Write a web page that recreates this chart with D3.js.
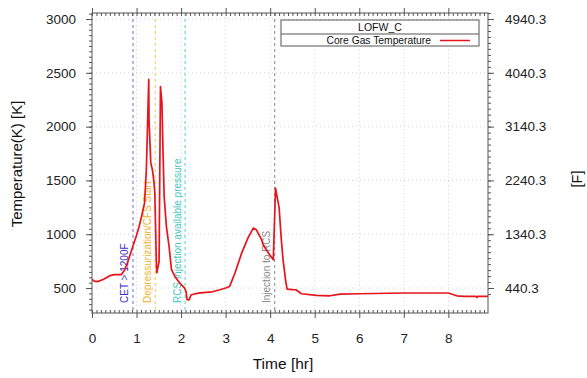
<!DOCTYPE html>
<html>
<head>
<meta charset="utf-8">
<script src="https://cdn.jsdelivr.net/npm/d3@7"></script>
<style>
  body { margin: 0; background: #fff; }
  svg { font-family: "Liberation Sans", Arial, sans-serif; }
</style>
</head>
<body>
<svg id="chart" width="587" height="378"></svg>
<script>
// time [hr] and core gas temperature [K]
const timeHr = [0.00, 0.05, 0.12, 0.25, 0.40, 0.50, 0.66, 0.73, 0.80, 0.92, 1.00, 1.05, 1.11, 1.18,
  1.22, 1.274, 1.28, 1.32, 1.356, 1.386, 1.41, 1.447, 1.455, 1.506, 1.537, 1.57, 1.595, 1.62, 1.67,
  1.73, 1.785, 1.86, 1.97, 2.08, 2.11, 2.135, 2.18, 2.22, 2.30, 2.43, 2.70, 2.87, 3.00, 3.09,
  3.21, 3.36, 3.50, 3.62, 3.69, 3.81, 3.84, 3.96, 4.07, 4.12, 4.20, 4.25, 4.29, 4.35,
  4.38, 4.50, 4.58, 4.70, 5.04, 5.34, 5.57, 6.00, 7.00, 8.00, 8.10, 8.19, 8.34, 8.62, 8.64, 8.66, 8.89];
const coreGasK = [580, 565, 560, 580, 615, 625, 625, 665, 740, 890, 990, 1060, 1160, 1290,
  1600, 2440, 2063, 1663, 1598, 1505, 1385, 700, 642, 747, 2372, 2220, 1756, 1350, 1072,
  886, 670, 608, 546, 500, 470, 391, 390, 435, 445, 455, 465, 484, 500, 515,
  640, 825, 964, 1057, 1041, 948, 902, 825, 763, 1428, 1250, 950, 760, 560,
  490, 485, 484, 447, 431, 428, 444, 447, 454, 454, 440, 428, 422, 422, 414, 422, 422];

const xTicks = [0, 1, 2, 3, 4, 5, 6, 7, 8];
const yTicksK = [500, 1000, 1500, 2000, 2500, 3000];
const yTicksF = [440.3, 1340.3, 2240.3, 3140.3, 4040.3, 4940.3];

const events = [
  {t: 0.92, label: 'CET > 1200F', line: '#8a84d6', text: '#3b2fc4'},
  {t: 1.42, label: 'Depressurization/CFS Start', line: '#f2d26a', text: '#f0b22a'},
  {t: 2.09, label: 'RCS injection available pressure', line: '#74d6d6', text: '#3fc4c4'},
  {t: 4.10, label: 'Injection to RCS', line: '#9a9a9a', text: '#8a8a8a'}
];

const seriesName = 'Core Gas Temperature';
const caseName = 'LOFW_C';

const toF = k => (k - 273.15) * 1.8 + 32;

const margin = {top: 13, right: 99, bottom: 65, left: 92};
const width = 587 - margin.left - margin.right;
const height = 378 - margin.top - margin.bottom;

const x = d3.scaleLinear().domain([0, 8.89]).range([0, width]);
const y = d3.scaleLinear().domain([268, 3056]).range([height, 0]);
const yF = d3.scaleLinear().domain([toF(268), toF(3056)]).range([height, 0]);

const svg = d3.select('#chart');
const g = svg.append('g').attr('transform', 'translate(' + margin.left + ',' + margin.top + ')');

// grid
g.append('g').selectAll('line').data(yTicksK).join('line')
  .attr('x1', 0).attr('x2', width)
  .attr('y1', d => y(d)).attr('y2', d => y(d))
  .attr('stroke', '#d4d4d4').attr('stroke-dasharray', '1,3');
g.append('g').selectAll('line').data(xTicks.slice(1)).join('line')
  .attr('x1', d => x(d)).attr('x2', d => x(d))
  .attr('y1', 0).attr('y2', height)
  .attr('stroke', '#d4d4d4').attr('stroke-dasharray', '1,3');

// event lines + labels
events.forEach(e => {
  g.append('line')
    .attr('x1', x(e.t)).attr('x2', x(e.t))
    .attr('y1', 0).attr('y2', height)
    .attr('stroke', e.line).attr('stroke-width', 1.2)
    .attr('stroke-dasharray', '3,3');
  g.append('text')
    .attr('transform', 'translate(' + (x(e.t) - 4.5) + ',' + (height - 10) + ') rotate(-90)')
    .attr('fill', e.text)
    .attr('font-size', 10)
    .text(e.label);
});

// series
const line = d3.line()
  .x((d, i) => x(timeHr[i]))
  .y(d => y(d));

g.append('path')
  .datum(coreGasK)
  .attr('fill', 'none')
  .attr('stroke', '#e8141c')
  .attr('stroke-width', 1.7)
  .attr('stroke-linejoin', 'round')
  .attr('d', line);

// axes
const axisColor = '#555';
const styleAxis = sel => {
  sel.select('.domain').remove();
  sel.selectAll('line').attr('stroke', axisColor);
  sel.selectAll('text').attr('fill', '#222').attr('font-size', 13.5)
    .attr('font-family', '"Liberation Sans", Arial, sans-serif');
};

const minorX = d3.range(0, 8.9, 0.1);
const minorK = d3.range(300, 3056, 50);
const minorF = d3.range(440.3 - 100, toF(3056), 100).filter(d => d > toF(268));

g.append('g').attr('transform', 'translate(0,' + height + ')')
  .call(d3.axisBottom(x).tickValues(minorX).tickSize(-3).tickFormat('')).call(styleAxis);
g.append('g').attr('transform', 'translate(0,' + height + ')')
  .call(d3.axisBottom(x).tickValues(xTicks).tickSize(5).tickPadding(15).tickFormat(d3.format('d'))).call(styleAxis);

g.append('g')
  .call(d3.axisTop(x).tickValues(minorX).tickSize(-3).tickFormat('')).call(styleAxis);
g.append('g')
  .call(d3.axisTop(x).tickValues(xTicks).tickSize(5).tickFormat('')).call(styleAxis);

g.append('g')
  .call(d3.axisLeft(y).tickValues(minorK).tickSize(3).tickFormat('')).call(styleAxis);
g.append('g')
  .call(d3.axisLeft(y).tickValues(yTicksK).tickSize(6).tickPadding(10).tickFormat(d3.format('d'))).call(styleAxis);

g.append('g').attr('transform', 'translate(' + width + ',0)')
  .call(d3.axisRight(yF).tickValues(minorF).tickSize(3).tickFormat('')).call(styleAxis);
g.append('g').attr('transform', 'translate(' + width + ',0)')
  .call(d3.axisRight(yF).tickValues(yTicksF).tickSize(6).tickPadding(11).tickFormat(d3.format('.1f'))).call(styleAxis);

// frame
g.append('rect')
  .attr('width', width).attr('height', height)
  .attr('fill', 'none').attr('stroke', axisColor);

// axis titles
svg.append('text')
  .attr('x', margin.left + width / 2 - 7).attr('y', 369)
  .attr('text-anchor', 'middle').attr('font-size', 15.5).attr('fill', '#111')
  .text('Time [hr]');
svg.append('text')
  .attr('transform', 'translate(22,' + (margin.top + height / 2 + 1) + ') rotate(-90)')
  .attr('text-anchor', 'middle').attr('font-size', 15).attr('fill', '#111')
  .text('Temperature(K) [K]');
svg.append('text')
  .attr('transform', 'translate(582,179) rotate(-90)')
  .attr('text-anchor', 'middle').attr('font-size', 14.5).attr('fill', '#111')
  .text('[F]');

// legend
const lg = svg.append('g').attr('transform', 'translate(281,20)');
lg.append('rect').attr('width', 198).attr('height', 26)
  .attr('fill', '#fff').attr('stroke', '#555');
lg.append('line').attr('x1', 0).attr('x2', 198).attr('y1', 14).attr('y2', 14).attr('stroke', '#555');
lg.append('text').attr('x', 99).attr('y', 11).attr('text-anchor', 'middle')
  .attr('font-size', 10.5).attr('fill', '#111').text(caseName);
lg.append('text').attr('x', 150).attr('y', 24).attr('text-anchor', 'end')
  .attr('font-size', 10.3).attr('fill', '#111').text(seriesName);
lg.append('line').attr('x1', 159).attr('x2', 189).attr('y1', 20.5).attr('y2', 20.5)
  .attr('stroke', '#e8141c').attr('stroke-width', 1.5);
</script>
</body>
</html>
